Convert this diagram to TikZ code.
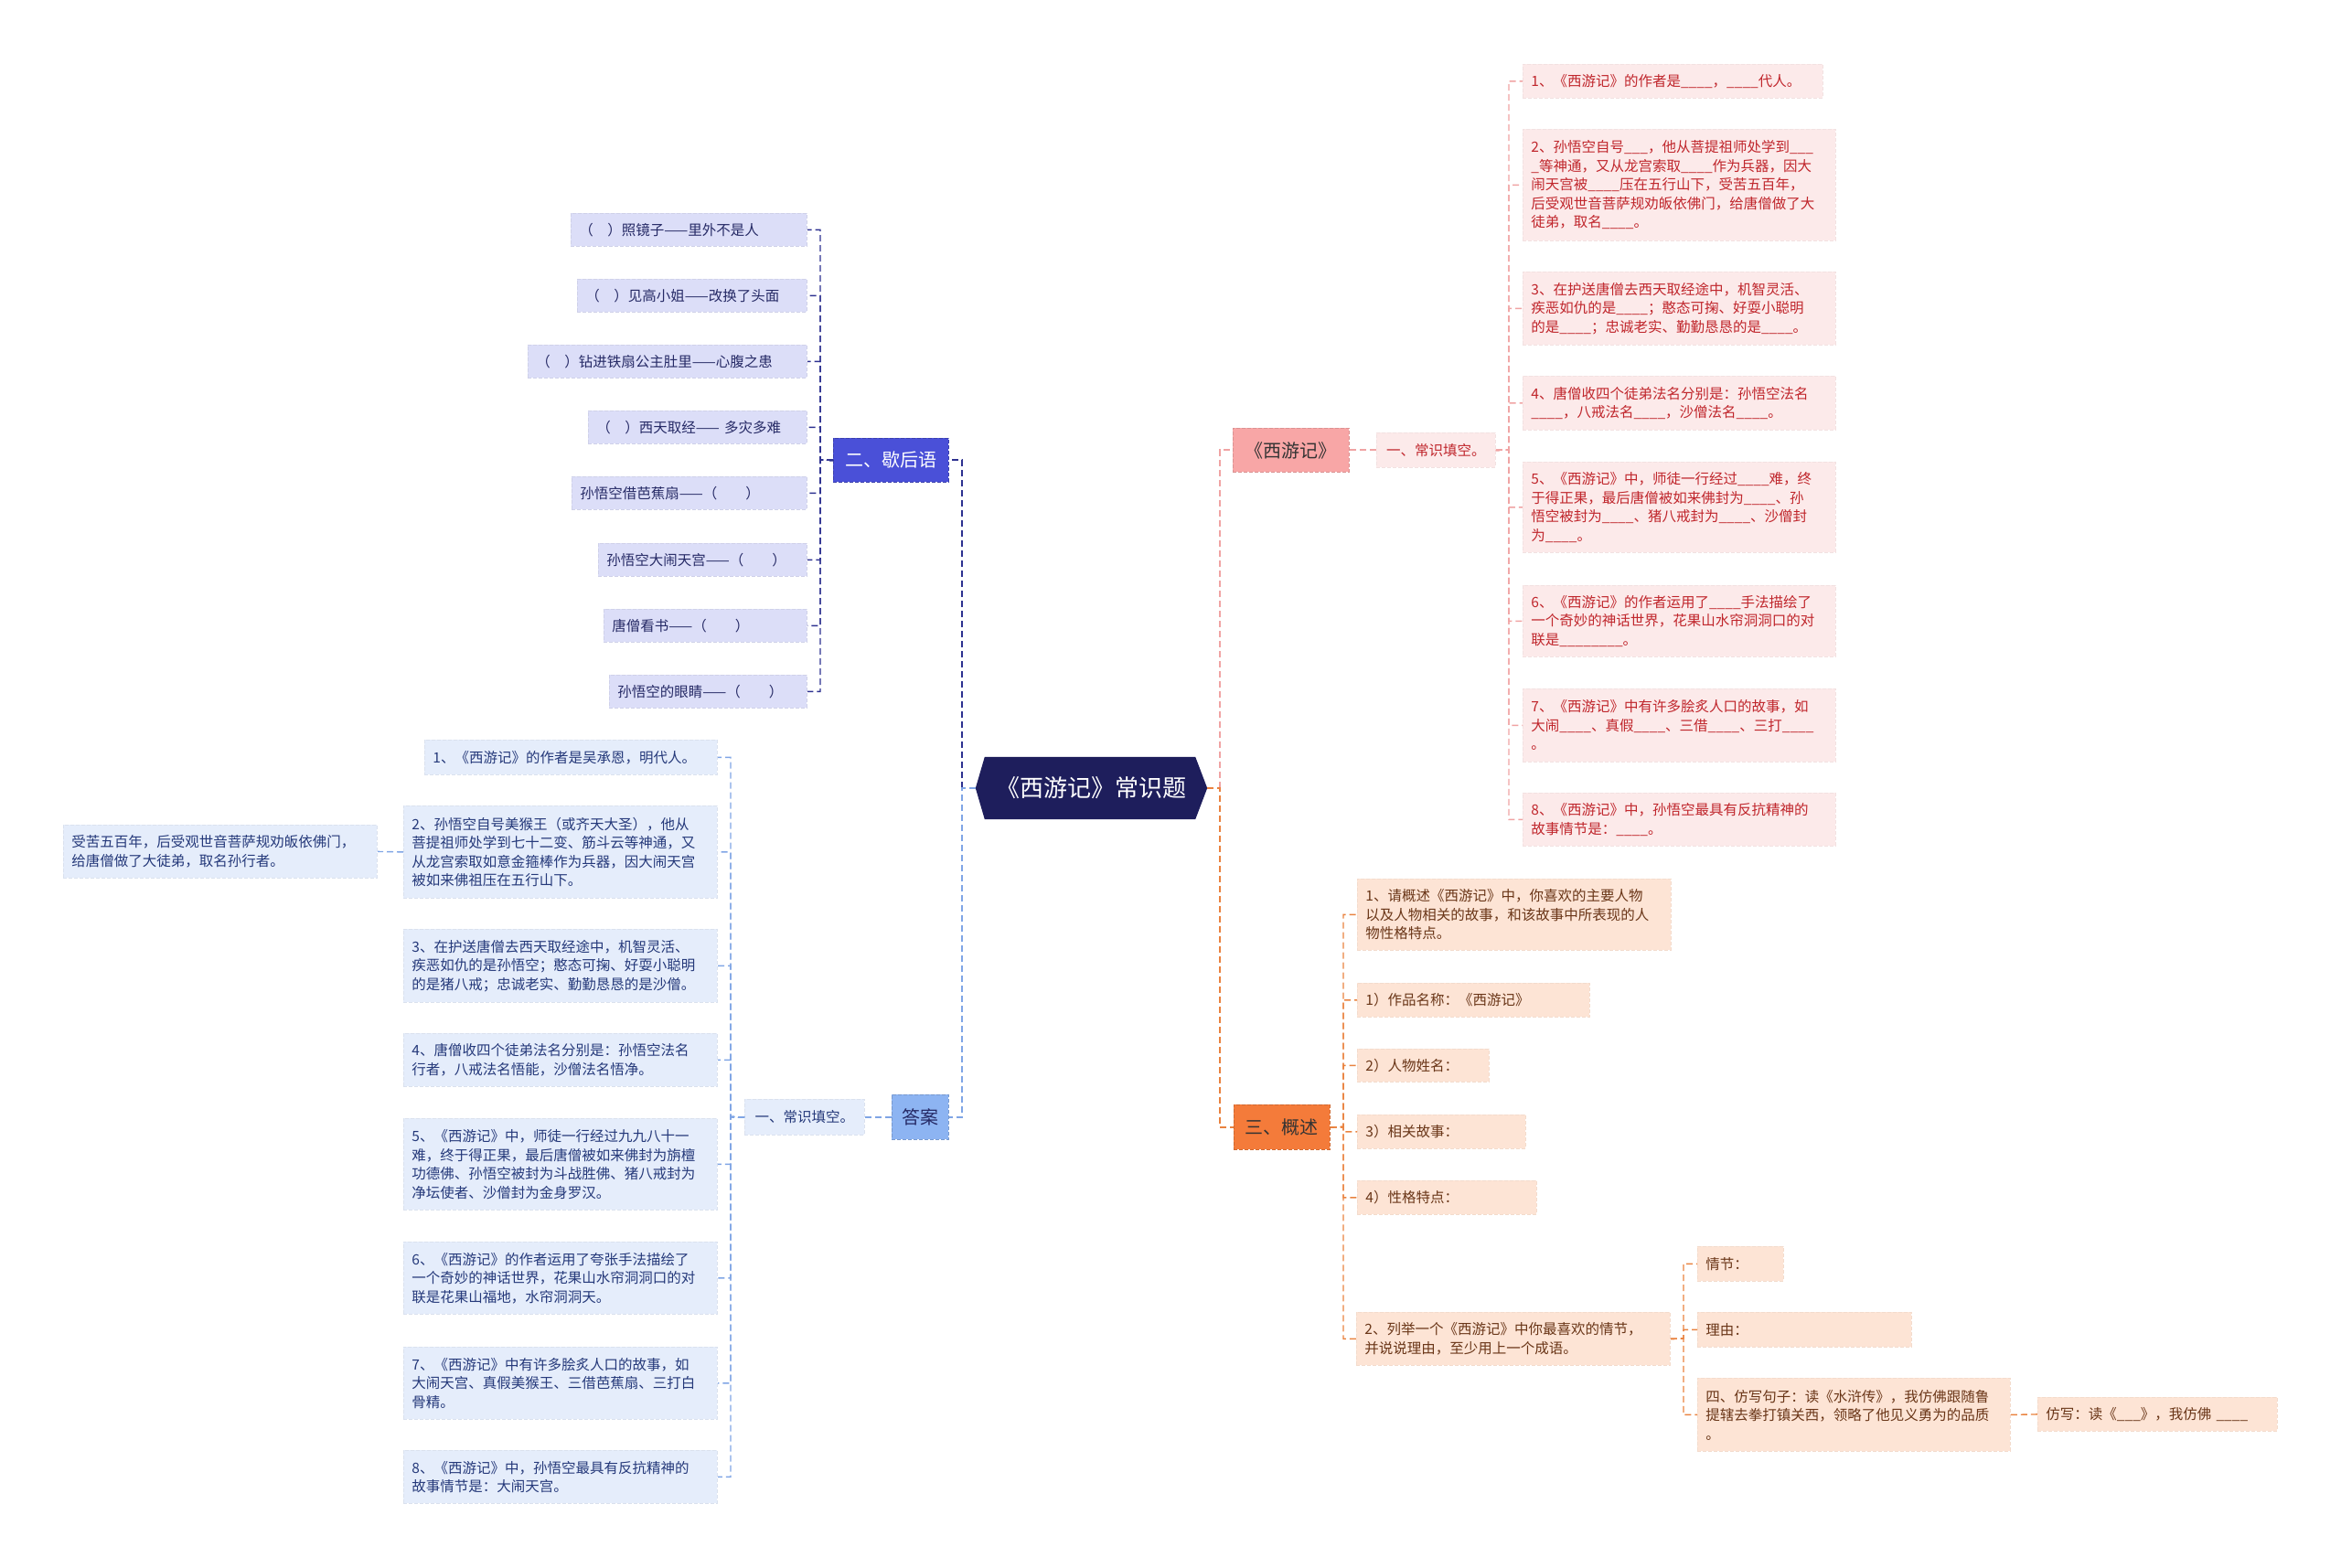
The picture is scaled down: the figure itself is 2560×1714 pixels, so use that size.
\documentclass[tikz,border=0pt]{standalone}
\usepackage{fontspec}
\setmainfont{Noto Sans CJK SC}
\usetikzlibrary{backgrounds}
\definecolor{cnavy}{HTML}{1E1E5C}
\definecolor{lnavy}{HTML}{2D3190}
\definecolor{fnavy}{HTML}{4A50D8}
\definecolor{lfnavy}{HTML}{DCDEF8}
\definecolor{tnavy}{HTML}{262A66}
\definecolor{lblue}{HTML}{7FA5E5}
\definecolor{fblue}{HTML}{8DB4F2}
\definecolor{lfblue}{HTML}{E5EDFB}
\definecolor{tblue}{HTML}{25397A}
\definecolor{lpink}{HTML}{F0A3A3}
\definecolor{fpink}{HTML}{F8A6A6}
\definecolor{lfpink}{HTML}{FCEAEA}
\definecolor{tred}{HTML}{C0262C}
\definecolor{lorange}{HTML}{E9823F}
\definecolor{forange}{HTML}{F47B3A}
\definecolor{lforange}{HTML}{FDE4D5}
\definecolor{tbrown}{HTML}{6A3618}
\newcommand\blnk{\_\_\_\_}
\tikzset{
  every node/.style={font=\fontsize{15.5}{20.5}\selectfont},
  box/.style={anchor=north west, inner xsep=9pt, inner ysep=1pt, align=left,
    dash pattern=on 4pt off 2pt, line width=0.8pt},
  lone/.style={anchor=north west, inner sep=0pt, align=center,
    dash pattern=on 4pt off 2pt, line width=0.8pt, font=\fontsize{20}{24}\selectfont},
  ltwo/.style={anchor=north west, inner sep=0pt, align=center,
    dash pattern=on 4pt off 2pt, line width=0.8pt},
  nvleaf/.style={box, fill=lfnavy, draw=lfnavy!94!black, text=tnavy},
  blleaf/.style={box, fill=lfblue, draw=lfblue!95!black, text=tblue},
  pkleaf/.style={box, fill=lfpink, draw=lfpink!96!black, text=tred},
  orleaf/.style={box, fill=lforange, draw=lforange!96!black, text=tbrown},
  cnl/.style={draw=lnavy, line width=2pt, dash pattern=on 7pt off 4pt},
  cns/.style={draw=lnavy, line width=1.4pt, dash pattern=on 7pt off 4pt},
  cbl/.style={draw=lblue, line width=2pt, dash pattern=on 7pt off 4pt},
  cbs/.style={draw=lblue, line width=1.4pt, dash pattern=on 7pt off 4pt},
  cpl/.style={draw=lpink, line width=2pt, dash pattern=on 7pt off 4pt},
  cps/.style={draw=lpink, line width=1.4pt, dash pattern=on 7pt off 4pt},
  col/.style={draw=lorange, line width=2pt, dash pattern=on 7pt off 4pt},
  cos/.style={draw=lorange, line width=1.4pt, dash pattern=on 7pt off 4pt},
}
\begin{document}
\begin{tikzpicture}[x=1pt,y=-1pt]
\useasboundingbox (0,0) rectangle (2560,1714);

% centre
\node[font=\fontsize{26}{30}\selectfont, text=white, minimum width=253pt, minimum height=68pt, inner sep=0pt] (c) at (1193.5,862) {《西游记》常识题};
\begin{pgfonlayer}{background}
\fill[cnavy] (c.west) -- ([xshift=10pt]c.north west) -- ([xshift=-13pt]c.north east) -- (c.east) -- ([xshift=-13pt]c.south east) -- ([xshift=10pt]c.south west) -- cycle;
\end{pgfonlayer}

% level one
\node[lone, fill=fnavy, draw=fnavy!80!black, text=white, minimum width=126pt, minimum height=48pt] (xhy) at (911,479) {二、歇后语};
\node[lone, fill=fblue, draw=fblue!85!black, text=tnavy, minimum width=62pt, minimum height=49pt] (da) at (975,1197) {答案};
\node[lone, fill=fpink, draw=fpink!88!black, text=black!80, minimum width=127pt, minimum height=48pt] (xyj) at (1348,468) {《西游记》};
\node[lone, fill=forange, draw=forange!85!black, text=black!80, minimum width=105pt, minimum height=49pt] (gs) at (1349,1208) {三、概述};
\node[ltwo, fill=lfblue, draw=lfblue!95!black, text=tblue, minimum width=131pt, minimum height=39pt] (ck) at (814,1202) {一、常识填空。};
\node[ltwo, fill=lfpink, draw=lfpink!96!black, text=tred, minimum width=130pt, minimum height=38pt] (rck) at (1505,473) {一、常识填空。};

% xiehouyu leaves
\node[nvleaf, text width=240pt, minimum height=36pt] (x1) at (624,233) {（　）照镜子——里外不是人};
\node[nvleaf, text width=233pt, minimum height=36pt] (x2) at (631,305) {（　）见高小姐——改换了头面};
\node[nvleaf, text width=287pt, minimum height=36pt] (x3) at (577,377) {（　）钻进铁扇公主肚里——心腹之患};
\node[nvleaf, text width=221pt, minimum height=36pt] (x4) at (643,449) {（　）西天取经—— 多灾多难};
\node[nvleaf, text width=239pt, minimum height=36pt] (x5) at (625,521) {孙悟空借芭蕉扇——（　　）};
\node[nvleaf, text width=210pt, minimum height=36pt] (x6) at (654,594) {孙悟空大闹天宫——（　　）};
\node[nvleaf, text width=204pt, minimum height=36pt] (x7) at (660,666) {唐僧看书——（　　）};
\node[nvleaf, text width=198pt, minimum height=36pt] (x8) at (666,738) {孙悟空的眼睛——（　　）};

% answer leaves
\node[blleaf, text width=302pt, minimum height=38pt] (a1) at (464,809) {1、《西游记》的作者是吴承恩，明代人。};
\node[blleaf, text width=325pt, minimum height=101pt] (a2) at (441,881) {2、孙悟空自号美猴王（或齐天大圣），他从\\菩提祖师处学到七十二变、筋斗云等神通，又\\从龙宫索取如意金箍棒作为兵器，因大闹天宫\\被如来佛祖压在五行山下。};
\node[blleaf, text width=325pt, minimum height=80pt] (a3) at (441,1016) {3、在护送唐僧去西天取经途中，机智灵活、\\疾恶如仇的是孙悟空；憨态可掬、好耍小聪明\\的是猪八戒；忠诚老实、勤勤恳恳的是沙僧。};
\node[blleaf, text width=325pt, minimum height=58pt] (a4) at (441,1130) {4、唐僧收四个徒弟法名分别是：孙悟空法名\\行者，八戒法名悟能，沙僧法名悟净。};
\node[blleaf, text width=325pt, minimum height=100pt] (a5) at (441,1223) {5、《西游记》中，师徒一行经过九九八十一\\难，终于得正果，最后唐僧被如来佛封为旃檀\\功德佛、孙悟空被封为斗战胜佛、猪八戒封为\\净坛使者、沙僧封为金身罗汉。};
\node[blleaf, text width=325pt, minimum height=79pt] (a6) at (441,1358) {6、《西游记》的作者运用了夸张手法描绘了\\一个奇妙的神话世界，花果山水帘洞洞口的对\\联是花果山福地，水帘洞洞天。};
\node[blleaf, text width=325pt, minimum height=79pt] (a7) at (441,1473) {7、《西游记》中有许多脍炙人口的故事，如\\大闹天宫、真假美猴王、三借芭蕉扇、三打白\\骨精。};
\node[blleaf, text width=325pt, minimum height=58pt] (a8) at (441,1586) {8、《西游记》中，孙悟空最具有反抗精神的\\故事情节是：大闹天宫。};
\node[blleaf, text width=325pt, minimum height=58pt] (far) at (69,902) {受苦五百年，后受观世音菩萨规劝皈依佛门，\\给唐僧做了大徒弟，取名孙行者。};

% right red leaves
\node[pkleaf, text width=310pt, minimum height=37pt] (r1) at (1665,70) {1、《西游记》的作者是\blnk{}，\blnk{}代人。};
\node[pkleaf, text width=324pt, minimum height=122pt] (r2) at (1665,141) {2、孙悟空自号\_\_\_，他从菩提祖师处学到\_\_\_\\\_等神通，又从龙宫索取\blnk{}作为兵器，因大\\闹天宫被\blnk{}压在五行山下，受苦五百年，\\后受观世音菩萨规劝皈依佛门，给唐僧做了大\\徒弟，取名\blnk{}。};
\node[pkleaf, text width=324pt, minimum height=80pt] (r3) at (1665,297) {3、在护送唐僧去西天取经途中，机智灵活、\\疾恶如仇的是\blnk{}；憨态可掬、好耍小聪明\\的是\blnk{}；忠诚老实、勤勤恳恳的是\blnk{}。};
\node[pkleaf, text width=324pt, minimum height=59pt] (r4) at (1665,411) {4、唐僧收四个徒弟法名分别是：孙悟空法名\\\blnk{}，八戒法名\blnk{}，沙僧法名\blnk{}。};
\node[pkleaf, text width=324pt, minimum height=99pt] (r5) at (1665,505) {5、《西游记》中，师徒一行经过\blnk{}难，终\\于得正果，最后唐僧被如来佛封为\blnk{}、孙\\悟空被封为\blnk{}、猪八戒封为\blnk{}、沙僧封\\为\blnk{}。};
\node[pkleaf, text width=324pt, minimum height=78pt] (r6) at (1665,640) {6、《西游记》的作者运用了\blnk{}手法描绘了\\一个奇妙的神话世界，花果山水帘洞洞口的对\\联是\blnk{}\blnk{}。};
\node[pkleaf, text width=324pt, minimum height=80pt] (r7) at (1665,753) {7、《西游记》中有许多脍炙人口的故事，如\\大闹\blnk{}、真假\blnk{}、三借\blnk{}、三打\blnk{}\\。};
\node[pkleaf, text width=324pt, minimum height=58pt] (r8) at (1665,867) {8、《西游记》中，孙悟空最具有反抗精神的\\故事情节是：\blnk{}。};

% orange leaves
\node[orleaf, text width=325pt, minimum height=78pt] (o1) at (1484,961) {1、请概述《西游记》中，你喜欢的主要人物\\以及人物相关的故事，和该故事中所表现的人\\物性格特点。};
\node[orleaf, text width=236pt, minimum height=37pt] (o2) at (1484,1075) {1）作品名称：《西游记》};
\node[orleaf, text width=126pt, minimum height=36pt] (o3) at (1484,1147) {2）人物姓名：};
\node[orleaf, text width=166pt, minimum height=37pt] (o4) at (1484,1219) {3）相关故事：};
\node[orleaf, text width=178pt, minimum height=37pt] (o5) at (1484,1291) {4）性格特点：};
\node[orleaf, text width=325pt, minimum height=58pt] (o6) at (1483,1435) {2、列举一个《西游记》中你最喜欢的情节，\\并说说理由，至少用上一个成语。};
\node[orleaf, text width=76pt, minimum height=38pt] (p1) at (1856,1363) {情节：};
\node[orleaf, text width=216pt, minimum height=38pt] (p2) at (1856,1435) {理由：};
\node[orleaf, text width=324pt, minimum height=80pt] (p3) at (1856,1507) {四、仿写句子：读《水浒传》，我仿佛跟随鲁\\提辖去拳打镇关西，领略了他见义勇为的品质\\。};
\node[orleaf, text width=244pt, minimum height=37pt] (fx) at (2228,1528) {仿写：读《\_\_\_》，我仿佛 \blnk{}};

% connectors
\coordinate (jl) at (1052,862);
\coordinate (jr) at (1334,862);
\draw[cnl] (jl) |- (xhy.east);
\draw[cbl] (c.west) -- (jl) |- (da.east);
\draw[cpl] (jr) |- (xyj.west);
\draw[col] (c.east) -- (jr) |- (gs.west);

\coordinate (xv) at (897,503);
\foreach \n in {1,...,8} \draw[cns] (xhy.west) -- (xv) |- (x\n.east);

\draw[cbl] (da.west) -- (ck.east);
\coordinate (av) at (799,1221.5);
\foreach \n in {1,...,8} \draw[cbs] (ck.west) -- (av) |- (a\n.east);
\draw[cbs] (a2.west) -- (far.east);

\draw[cpl] (xyj.east) -- (rck.west);
\coordinate (rv) at (1650,492);
\foreach \n in {1,...,8} \draw[cps] (rck.east) -- (rv) |- (r\n.west);

\coordinate (ov) at (1469,1232.5);
\foreach \n in {1,...,6} \draw[cos] (gs.east) -- (ov) |- (o\n.west);
\coordinate (pv) at (1841,1464);
\foreach \n in {1,2,3} \draw[cos] (o6.east) -- (pv) |- (p\n.west);
\draw[cos] (p3.east) -- (fx.west);
\end{tikzpicture}
\end{document}
